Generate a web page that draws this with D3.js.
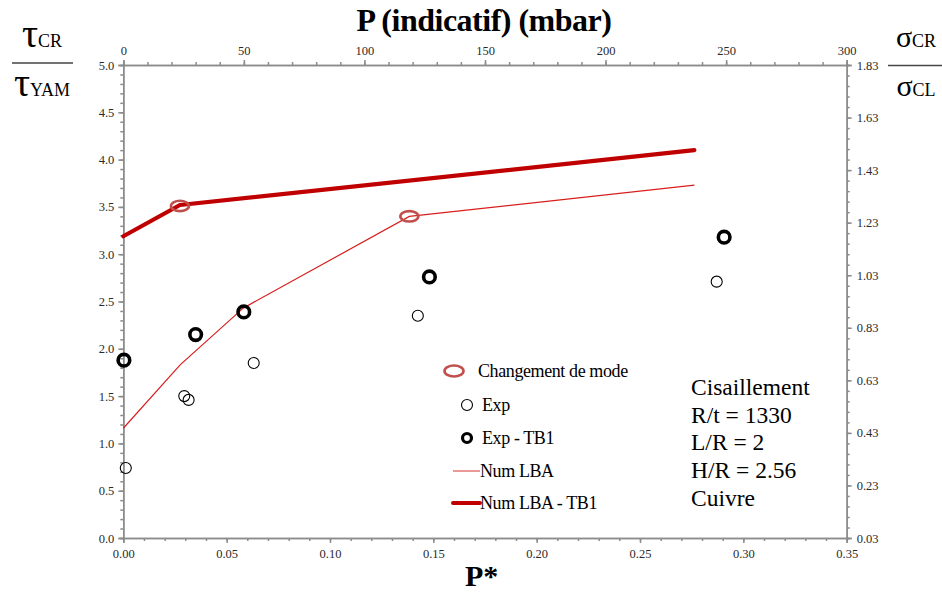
<!DOCTYPE html>
<html>
<head>
  <meta charset="UTF-8">
  <script src="https://d3js.org/d3.v7.min.js"></script>
  <style>
    .axis path, .axis line { stroke: #8c8c8c; stroke-width: 1.5; }
    .axis text { fill: #2a2a2a; }
  </style>
</head>
<body style="margin:0">
<script>
  // P* (bottom axis) and tau_CR/tau_YAM (left axis)
  const expP = [0.0012, 0.0295, 0.0316, 0.0631, 0.1425, 0.2871];
  const expV = [0.74, 1.50, 1.46, 1.85, 2.35, 2.71];
  const expTb1P = [0.0003, 0.0350, 0.0583, 0.1481, 0.2907];
  const expTb1V = [1.88, 2.15, 2.39, 2.76, 3.18];
  const lbaP = [0, 0.0275, 0.0580, 0.1384, 0.2763];
  const lbaV = [1.16, 1.83, 2.43, 3.40, 3.73];
  const lbaTb1P = [0, 0.0274, 0.2763];
  const lbaTb1V = [3.19, 3.52, 4.10];
  const modeP = [0.0274, 0.1384];
  const modeV = [3.51, 3.40];

  const leftTicks = [0, 0.5, 1, 1.5, 2, 2.5, 3, 3.5, 4, 4.5, 5];
  const bottomTicks = [0, 0.05, 0.1, 0.15, 0.2, 0.25, 0.3, 0.35];
  const topTicks = [0, 50, 100, 150, 200, 250, 300];
  const rightTicks = [0.03, 0.23, 0.43, 0.63, 0.83, 1.03, 1.23, 1.43, 1.63, 1.83];

  const legendNames = ["Changement de mode", "Exp", "Exp - TB1", "Num LBA", "Num LBA - TB1"];
  const noteLines = ["Cisaillement", "R/t = 1330", "L/R = 2", "H/R = 2.56", "Cuivre"];

  const W = 942, H = 592;
  const L = 123.3, R = 846.7, T = 65, B = 538;
  const FONT = "Liberation Serif";

  const svg = d3.select("body").append("svg").attr("width", W).attr("height", H);

  const x = d3.scaleLinear().domain([0, 0.35]).range([L, R]);
  const y = d3.scaleLinear().domain([0, 5]).range([B, T]);
  const xTop = d3.scaleLinear().domain([0, 300]).range([L, R]);
  const yRight = d3.scaleLinear().domain([0.03, 1.83]).range([B, T]);

  const minor = (a, b, s) => d3.range(Math.round((b - a) / s) + 1).map(i => a + i * s);

  // minor ticks first
  svg.append("g").attr("class", "axis").attr("transform", `translate(${L},0)`)
     .call(d3.axisLeft(y).tickValues(minor(0, 5, 0.1)).tickSize(3).tickFormat(""));
  svg.append("g").attr("class", "axis").attr("transform", `translate(0,${B})`)
     .call(d3.axisBottom(x).tickValues(minor(0, 0.35, 0.01)).tickSize(3).tickFormat(""));
  svg.append("g").attr("class", "axis").attr("transform", `translate(0,${T})`)
     .call(d3.axisTop(xTop).tickValues(minor(0, 300, 10)).tickSize(3).tickFormat(""));
  svg.append("g").attr("class", "axis").attr("transform", `translate(${R},0)`)
     .call(d3.axisRight(yRight).tickValues(minor(0.03, 1.83, 0.04)).tickSize(3).tickFormat(""));

  // major ticks
  const styleAxis = g => g.attr("font-family", null).attr("font-size", null)
     .selectAll("text").style("font-family", FONT).style("font-size", "12.5px");
  svg.append("g").attr("class", "axis").attr("transform", `translate(${L},0)`)
     .call(d3.axisLeft(y).tickValues(leftTicks).tickSize(5).tickPadding(4).tickFormat(d3.format(".1f")))
     .call(styleAxis);
  svg.append("g").attr("class", "axis").attr("transform", `translate(0,${B})`)
     .call(d3.axisBottom(x).tickValues(bottomTicks).tickSize(5).tickPadding(6).tickFormat(d3.format(".2f")))
     .call(styleAxis);
  svg.append("g").attr("class", "axis").attr("transform", `translate(0,${T})`)
     .call(d3.axisTop(xTop).tickValues(topTicks).tickSize(5).tickPadding(5).tickFormat(d3.format("d")))
     .call(styleAxis);
  svg.append("g").attr("class", "axis").attr("transform", `translate(${R},0)`)
     .call(d3.axisRight(yRight).tickValues(rightTicks).tickSize(5).tickPadding(5).tickFormat(d3.format(".2f")))
     .call(styleAxis);

  // lines
  const line = d3.line().x(d => x(d[0])).y(d => y(d[1]));
  svg.append("path").datum(d3.zip(lbaP, lbaV)).attr("d", line)
     .attr("fill", "none").attr("stroke", "#d81e1e").attr("stroke-width", 1.2);
  svg.append("path").datum(d3.zip(lbaTb1P, lbaTb1V)).attr("d", line)
     .attr("fill", "none").attr("stroke", "#c00000").attr("stroke-width", 4.2)
     .attr("stroke-linecap", "round").attr("stroke-linejoin", "round");

  // points
  svg.append("g").selectAll("circle").data(d3.zip(expP, expV)).join("circle")
     .attr("cx", d => x(d[0])).attr("cy", d => y(d[1])).attr("r", 5.5)
     .attr("fill", "none").attr("stroke", "#000").attr("stroke-width", 1.1);
  svg.append("g").selectAll("circle").data(d3.zip(expTb1P, expTb1V)).join("circle")
     .attr("cx", d => x(d[0])).attr("cy", d => y(d[1])).attr("r", 5.8)
     .attr("fill", "none").attr("stroke", "#000").attr("stroke-width", 3.6);
  svg.append("g").selectAll("ellipse").data(d3.zip(modeP, modeV)).join("ellipse")
     .attr("cx", d => x(d[0])).attr("cy", d => y(d[1])).attr("rx", 9).attr("ry", 5.2)
     .attr("fill", "none").attr("stroke", "#c0504d").attr("stroke-width", 2.6);

  // legend
  const legX = 467, legY = [371, 405, 438, 471, 503];
  const leg = svg.append("g");
  leg.append("ellipse").attr("cx", legX - 13).attr("cy", legY[0]).attr("rx", 9.5).attr("ry", 5.5)
     .attr("fill", "none").attr("stroke", "#c0504d").attr("stroke-width", 2.6);
  leg.append("circle").attr("cx", legX).attr("cy", legY[1]).attr("r", 5.5)
     .attr("fill", "none").attr("stroke", "#000").attr("stroke-width", 1.1);
  leg.append("circle").attr("cx", legX).attr("cy", legY[2]).attr("r", 4.5)
     .attr("fill", "none").attr("stroke", "#000").attr("stroke-width", 3.2);
  leg.append("line").attr("x1", 453).attr("x2", 480).attr("y1", legY[3]).attr("y2", legY[3])
     .attr("stroke", "#e06060").attr("stroke-width", 1.3);
  leg.append("line").attr("x1", 453).attr("x2", 480).attr("y1", legY[4]).attr("y2", legY[4])
     .attr("stroke", "#c00000").attr("stroke-width", 4).attr("stroke-linecap", "round");
  leg.selectAll("text").data(legendNames).join("text")
     .attr("x", (d, i) => i === 0 ? 478 : i < 3 ? 482 : 480)
     .attr("y", (d, i) => legY[i] + 6)
     .style("font-family", FONT).style("font-size", "18px").style("letter-spacing", "-0.4px")
     .text(d => d);

  // annotation block
  svg.append("g").selectAll("text").data(noteLines).join("text")
     .attr("x", 691).attr("y", (d, i) => 395 + i * 27.7)
     .style("font-family", FONT).style("font-size", "23.5px")
     .text(d => d);

  // axis titles
  svg.append("text").attr("x", 484).attr("y", 31).attr("text-anchor", "middle")
     .style("font-family", FONT).style("font-size", "32px").style("font-weight", "bold")
     .style("letter-spacing", "-0.5px")
     .text("P (indicatif) (mbar)");
  svg.append("text").attr("x", 465).attr("y", 586)
     .style("font-family", FONT).style("font-size", "30px").style("font-weight", "bold")
     .text("P*");

  function fraction(cx, sym, top, bottom, symSize) {
    const g = svg.append("g");
    [[47, top], [96, bottom]].forEach(([yy, sub]) => {
      const t = g.append("text").attr("x", cx).attr("y", yy).attr("text-anchor", "middle")
                 .style("font-family", FONT);
      t.append("tspan").style("font-size", symSize + "px").text(sym);
      t.append("tspan").style("font-size", "18px").text(sub);
    });
  }
  fraction(42, "τ", "CR", "YAM", 40);
  svg.append("line").attr("x1", 12).attr("x2", 73).attr("y1", 63).attr("y2", 63)
     .attr("stroke", "#444").attr("stroke-width", 1.5);
  fraction(916, "σ", "CR", "CL", 30);
  svg.append("line").attr("x1", 888).attr("x2", 942).attr("y1", 65.5).attr("y2", 65.5)
     .attr("stroke", "#444").attr("stroke-width", 1.5);
</script>
</body>
</html>
